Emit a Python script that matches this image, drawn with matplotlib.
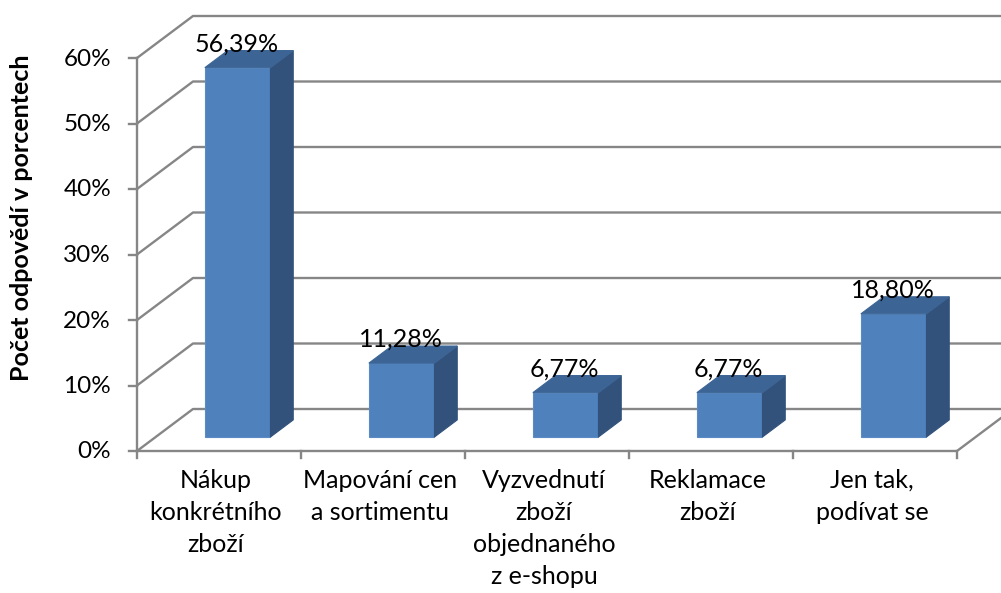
import matplotlib.pyplot as plt
from matplotlib.patches import Polygon

plt.rcParams['font.family'] = ['Lato', 'DejaVu Sans']

categories = ['Nákup\nkonkrétního\nzboží', 'Mapování cen\na sortimentu',
              'Vyzvednutí\nzboží\nobjednaného\nz e-shopu', 'Reklamace\nzboží',
              'Jen tak,\npodívat se']
values = [56.39, 11.28, 6.77, 6.77, 18.80]
labels = ['56,39%', '11,28%', '6,77%', '6,77%', '18,80%']
yticks = [0, 10, 20, 30, 40, 50, 60]
ytick_labels = ['0%', '10%', '20%', '30%', '40%', '50%', '60%']
ylabel = 'Počet odpovědí v porcentech'

# pseudo-3d projection (pixel space)
X0, Y0 = 137, 451        # front-left corner of the floor
CAT_W = 164              # width of one category
SCALE = 6.55             # pixels per percent
DEPTH = (56, -42)        # offset of the back wall
D0, D1 = 1 / 3, 0.74     # depth range of bars
HALF = 0.2               # half bar width in category units
GRID = '#868686'


def proj(cx, v, d):
    return X0 + cx * CAT_W + d * DEPTH[0], Y0 - v * SCALE + d * DEPTH[1]


fig = plt.figure(figsize=(10.01, 5.93), dpi=100)
ax = fig.add_axes([0, 0, 1, 1])
ax.set_xlim(0, 1001)
ax.set_ylim(593, 0)
ax.axis('off')

n = len(values)
vmax = yticks[-1]

# walls and gridlines
for v, lab in zip(yticks, ytick_labels):
    a, b, c = proj(0, v, 0), proj(0, v, 1), proj(n, v, 1)
    ax.plot([a[0], b[0], c[0]], [a[1], b[1], c[1]], color=GRID, lw=1.7, zorder=1)
    ax.plot([a[0] - 8, a[0]], [a[1], a[1]], color=GRID, lw=1.7, zorder=1)
    ax.text(111, a[1] + 1, lab, ha='right', va='center', fontsize=17.5, color='black')

# axis line and floor
p0, p1 = proj(0, 0, 0), proj(0, vmax, 0)
ax.plot([p0[0], p1[0]], [p0[1], p1[1]], color=GRID, lw=1.7, zorder=1)
f0, f1, f2 = proj(0, 0, 0), proj(n, 0, 0), proj(n, 0, 1)
ax.plot([f0[0], f1[0], f2[0]], [f0[1], f1[1], f2[1]], color=GRID, lw=1.7, zorder=1)
for i in range(n + 1):
    t = proj(i, 0, 0)
    ax.plot([t[0], t[0]], [t[1], t[1] + 7], color=GRID, lw=1.7, zorder=1)

# bars
for i, v in enumerate(values):
    l, r = i + 0.5 - HALF, i + 0.5 + HALF
    front = [proj(l, 0, D0), proj(r, 0, D0), proj(r, v, D0), proj(l, v, D0)]
    side = [proj(r, 0, D0), proj(r, 0, D1), proj(r, v, D1), proj(r, v, D0)]
    top = [proj(l, v, D0), proj(r, v, D0), proj(r, v, D1), proj(l, v, D1)]
    ax.add_patch(Polygon(front, closed=True, fc='#4F81BD', ec='#5B8AC4', lw=0.8, zorder=3))
    ax.add_patch(Polygon(side, closed=True, fc='#32527C', ec='#32527C', lw=0.8, zorder=3))
    ax.add_patch(Polygon(top, closed=True, fc='#3C6596', ec='#3C6596', lw=0.8, zorder=3))
    cx = proj(i + 0.5, v, D0)[0]
    ty = proj(i + 0.5, v, D1)[1]
    ax.text(cx - 1, ty + 1, labels[i], ha='center', va='baseline', fontsize=18, zorder=4)

# category labels
for i, c in enumerate(categories):
    x = proj(i + 0.5, 0, 0)[0] - 3
    ax.text(x, 469, c, ha='center', va='top', fontsize=18, linespacing=1.48)

ax.text(22, 218, ylabel, rotation=90, ha='center', va='center', fontsize=18,
        fontweight='bold')

fig.savefig('out.png', dpi=100)
